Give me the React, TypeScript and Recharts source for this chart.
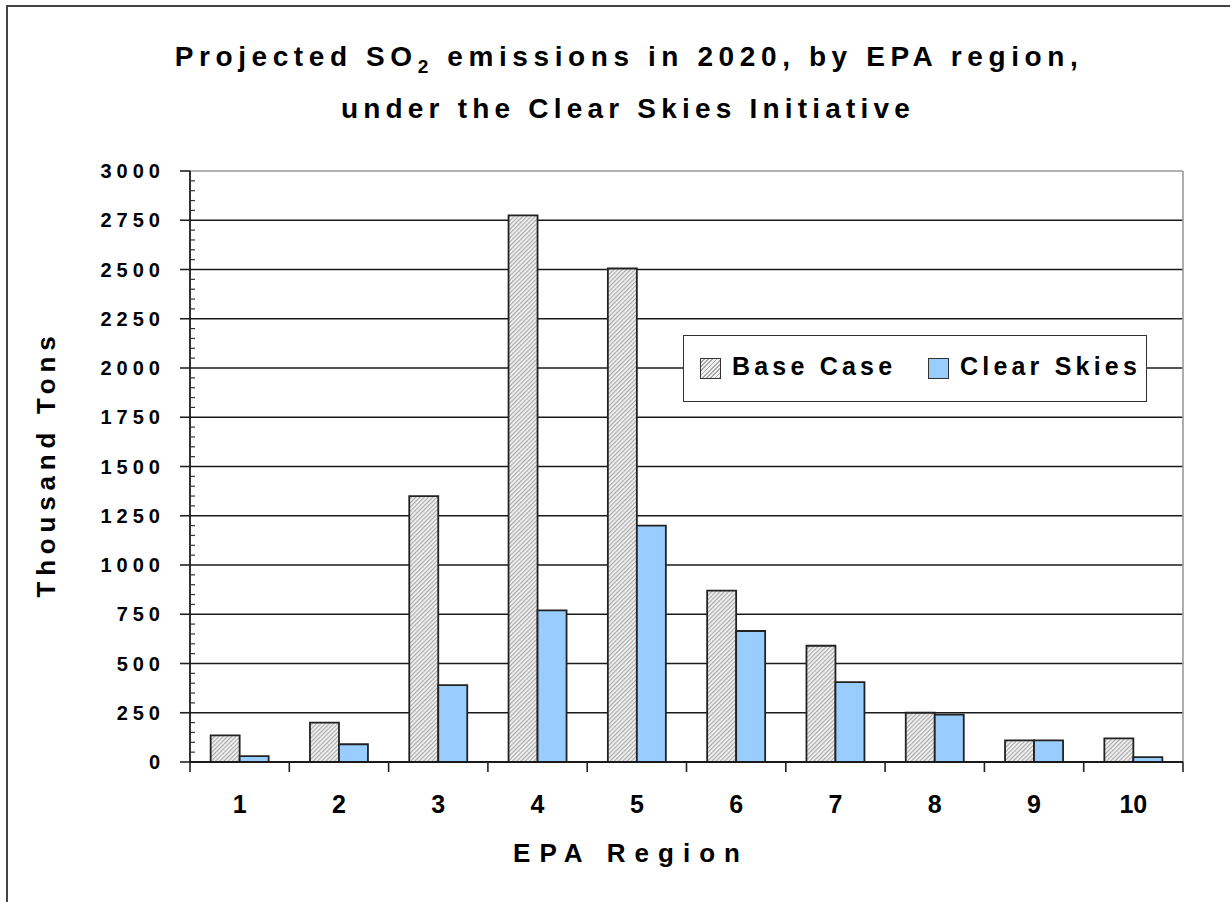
import React from "react";
import {
  BarChart,
  Bar,
  XAxis,
  YAxis,
  CartesianGrid,
  Legend,
  ReferenceLine,
} from "recharts";

const regions = ["1", "2", "3", "4", "5", "6", "7", "8", "9", "10"];
const baseCase = [135, 200, 1350, 2775, 2505, 870, 590, 250, 110, 120];
const clearSkies = [30, 90, 390, 770, 1200, 665, 405, 240, 110, 25];
const yTicks = [0, 250, 500, 750, 1000, 1250, 1500, 1750, 2000, 2250, 2500, 2750, 3000];
const gridValues = yTicks.filter((v) => v < 3000);

const minorTicks: number[] = [];
for (let v = 0; v <= 3000; v += 50) minorTicks.push(v);

const data = regions.map((region, i) => ({
  region,
  base: baseCase[i],
  clear: clearSkies[i],
}));

const FONT = '"Liberation Sans", Arial, sans-serif';
const HATCH =
  "repeating-linear-gradient(-45deg, #a8a8a8 0px, #a8a8a8 1.2px, #f4f4f4 1.2px, #f4f4f4 3px)";

const Y_TICK_SIZE = 10;
const Y_TICK_MARGIN = 15;
const X_TICK_SIZE = 10;
const X_TICK_MARGIN = 23;

function YTick(props: any) {
  const { x, y, payload } = props;
  const axisX = x + Y_TICK_SIZE + Y_TICK_MARGIN;
  const value = payload.value;
  if (yTicks.includes(value)) {
    return (
      <g>
        <line x1={axisX - Y_TICK_SIZE} x2={axisX} y1={y} y2={y} stroke="#222" strokeWidth={1.6} />
        <text
          x={x}
          y={y}
          dy="0.355em"
          textAnchor="end"
          fontFamily={FONT}
          fontSize={20}
          fontWeight={700}
          letterSpacing={5}
          fill="#000"
        >
          {value}
        </text>
      </g>
    );
  }
  return <line x1={axisX} x2={axisX + 5} y1={y} y2={y} stroke="#333" strokeWidth={1.2} />;
}

function XTick(props: any) {
  const { x, y, payload, index, visibleTicksCount } = props;
  const half = payload && payload.offset > 0 ? payload.offset : 49.65;
  const axisY = y - X_TICK_SIZE - X_TICK_MARGIN;
  return (
    <g>
      <line
        x1={x - half}
        x2={x - half}
        y1={axisY}
        y2={axisY + X_TICK_SIZE}
        stroke="#222"
        strokeWidth={1.6}
      />
      {index === visibleTicksCount - 1 && (
        <line
          x1={x + half}
          x2={x + half}
          y1={axisY}
          y2={axisY + X_TICK_SIZE}
          stroke="#222"
          strokeWidth={1.6}
        />
      )}
      <text
        x={x}
        y={y}
        dy="0.71em"
        textAnchor="middle"
        fontFamily={FONT}
        fontSize={25}
        fontWeight={700}
        fill="#000"
      >
        {payload.value}
      </text>
    </g>
  );
}

function LegendBox() {
  const text: React.CSSProperties = {
    position: "absolute",
    top: 16,
    fontFamily: FONT,
    fontWeight: 700,
    fontSize: 25,
    letterSpacing: 4.2,
    lineHeight: "29px",
    color: "#000",
    whiteSpace: "nowrap",
  };
  const sw: React.CSSProperties = {
    position: "absolute",
    top: 22,
    width: 19,
    height: 19,
    border: "1.5px solid #333",
  };
  return (
    <div
      style={{
        position: "relative",
        width: 462,
        height: 65,
        border: "1.5px solid #333",
        background: "#fff",
      }}
    >
      <div style={{ ...sw, left: 16, background: HATCH }} />
      <div style={{ ...text, left: 48 }}>Base Case</div>
      <div style={{ ...sw, left: 244, background: "#99ccff" }} />
      <div style={{ ...text, left: 276 }}>Clear Skies</div>
    </div>
  );
}

export default function App() {
  return (
    <div
      style={{
        position: "absolute",
        left: 0,
        top: 0,
        width: 1230,
        height: 902,
        background: "#fff",
        overflow: "hidden",
        fontFamily: FONT,
      }}
    >
      <div
        style={{
          position: "absolute",
          left: 6,
          top: 5,
          width: 1300,
          height: 1000,
          borderTop: "2px solid #444",
          borderLeft: "2px solid #444",
        }}
      />
      <div
        style={{
          position: "absolute",
          left: 0,
          width: 1258,
          top: 43,
          textAlign: "center",
          fontSize: 28,
          fontWeight: 700,
          letterSpacing: 5.6,
          lineHeight: "28px",
          whiteSpace: "nowrap",
        }}
      >
        Projected SO
        <span style={{ fontSize: 19, position: "relative", top: 7 }}>2</span> emissions in
        2020, by EPA region,
      </div>
      <div
        style={{
          position: "absolute",
          left: 0,
          width: 1256,
          top: 95,
          textAlign: "center",
          fontSize: 28,
          fontWeight: 700,
          letterSpacing: 5.2,
          lineHeight: "28px",
          whiteSpace: "nowrap",
        }}
      >
        under the Clear Skies Initiative
      </div>
      <div
        style={{
          position: "absolute",
          left: 46 - 200,
          width: 400,
          top: 464 - 13,
          textAlign: "center",
          fontSize: 26,
          fontWeight: 700,
          letterSpacing: 5.8,
          lineHeight: "26px",
          whiteSpace: "nowrap",
          transform: "rotate(-90deg)",
        }}
      >
        Thousand Tons
      </div>
      <div
        style={{
          position: "absolute",
          left: 0,
          width: 1262,
          top: 840,
          textAlign: "center",
          fontSize: 26,
          fontWeight: 700,
          letterSpacing: 9,
          lineHeight: "26px",
          whiteSpace: "nowrap",
        }}
      >
        EPA Region
      </div>
      <div style={{ position: "absolute", left: 0, top: 0 }}>
        <BarChart
          width={1230}
          height={902}
          data={data}
          margin={{ top: 171, right: 47, bottom: 139, left: 189 }}
          barCategoryGap="20.8%"
          barGap={0}
        >
          <defs>
            <pattern
              id="hatch"
              width="3"
              height="3"
              patternUnits="userSpaceOnUse"
              patternTransform="rotate(45)"
            >
              <rect width="3" height="3" fill="#f4f4f4" />
              <rect width="1.2" height="3" fill="#a8a8a8" />
            </pattern>
          </defs>
          <CartesianGrid
            vertical={false}
            horizontalValues={gridValues}
            stroke="#1a1a1a"
            strokeWidth={1.6}
          />
          <XAxis
            dataKey="region"
            height={1}
            axisLine={{ stroke: "#1a1a1a", strokeWidth: 1.8 }}
            tickLine={false}
            tickSize={X_TICK_SIZE}
            tickMargin={X_TICK_MARGIN}
            interval={0}
            tick={<XTick />}
          />
          <YAxis
            domain={[0, 3000]}
            ticks={minorTicks}
            interval={0}
            width={1}
            tickSize={Y_TICK_SIZE}
            tickMargin={Y_TICK_MARGIN}
            axisLine={{ stroke: "#1a1a1a", strokeWidth: 1.8 }}
            tickLine={false}
            tick={<YTick />}
          />
          <ReferenceLine y={3000} stroke="#9a9a9a" strokeWidth={1.6} />
          <ReferenceLine x="10" position="end" stroke="#9a9a9a" strokeWidth={1.6} />
          <Legend
            layout="horizontal"
            verticalAlign="middle"
            align="center"
            wrapperStyle={{ left: 683, top: 335, width: 465, height: 68 }}
            content={() => <LegendBox />}
          />
          <Bar
            dataKey="base"
            name="Base Case"
            fill="url(#hatch)"
            stroke="#222"
            strokeWidth={1.8}
            isAnimationActive={false}
          />
          <Bar
            dataKey="clear"
            name="Clear Skies"
            fill="#99ccff"
            stroke="#222"
            strokeWidth={1.8}
            isAnimationActive={false}
          />
        </BarChart>
      </div>
    </div>
  );
}
